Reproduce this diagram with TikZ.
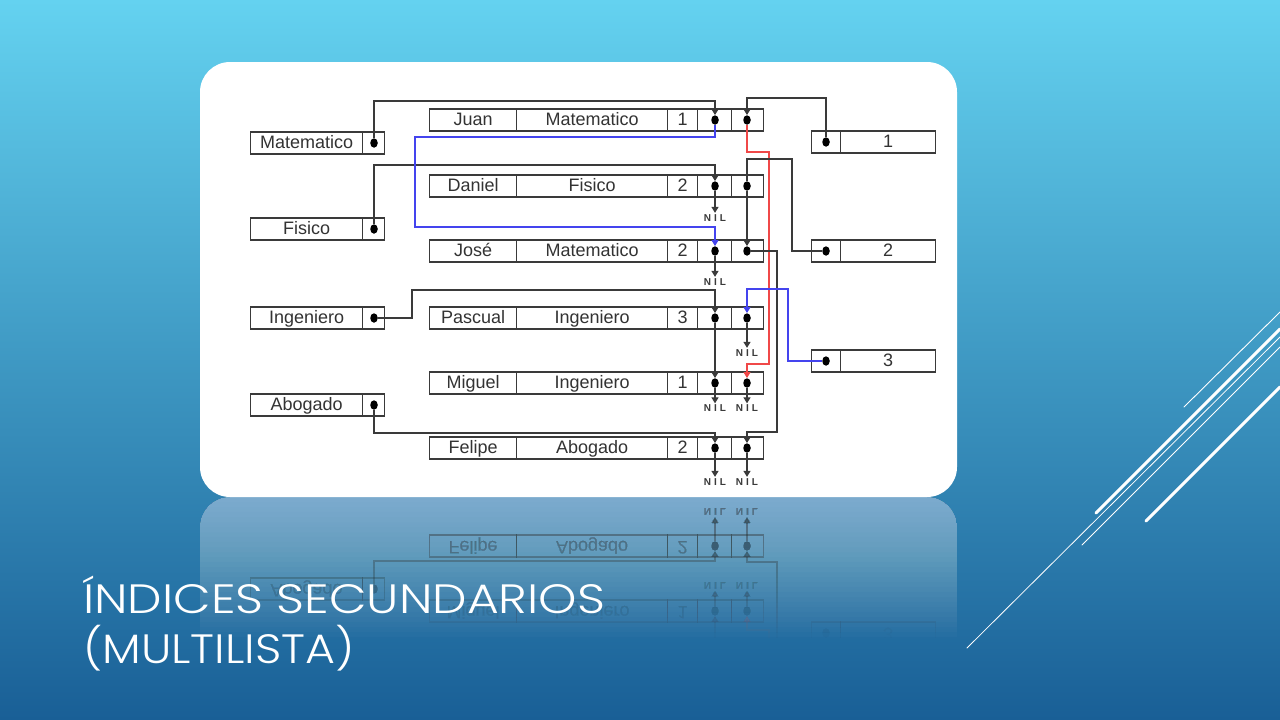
\documentclass[tikz,border=0pt]{standalone}
\usepackage{fontspec}
\usetikzlibrary{arrows.meta,shapes.geometric}
\newfontfamily\dfont{Liberation Sans}
\newfontfamily\tfont{Poppins Light}
\definecolor{linec}{HTML}{3A3A3A}
\definecolor{txtc}{HTML}{333333}
\definecolor{blu}{HTML}{4444EE}
\definecolor{rd}{HTML}{F04848}
\definecolor{bgtop}{RGB}{100,210,240}
\definecolor{bgmid}{RGB}{55,150,200}
\definecolor{bgbot}{RGB}{25,95,150}
\tikzset{
  cell/.style={draw=linec, line width=1.2pt, minimum height=22pt, inner sep=0pt, anchor=west, text=txtc, text height=14pt, text depth=4pt, font=\dfont\fontsize{18}{20}\selectfont},
  dotn/.style={ellipse, fill=black, minimum width=7.5pt, minimum height=9.5pt, inner sep=0pt},
  conn/.style={draw=linec, line width=1.2pt},
  arr/.style={conn, -{Triangle[width=7pt,length=6pt]}},
  barr/.style={conn, draw=blu, -{Triangle[width=7pt,length=6pt,fill=blu]}},
  rarr/.style={conn, draw=rd, -{Triangle[width=7pt,length=6pt,fill=rd]}},
  niltxt/.style={inner sep=0pt, text=linec, font=\dfont\bfseries\fontsize{10}{11}\selectfont},
  deco/.style={draw=white, line cap=round},
  card/.style={fill=white, rounded corners=30pt},
  ttl/.style={anchor=base west, inner sep=0pt, text=white, font=\tfont\fontsize{41}{41}\selectfont},
}
\newcommand\nilword{N\kern3pt I\kern3pt L}
% record: id, y, name, field, num
\newcommand\rec[5]{%
  \node[cell, minimum width=87pt] (#1n) at (429,#2) {#3};
  \node[cell, minimum width=151pt] (#1f) at (516,#2) {#4};
  \node[cell, minimum width=30pt] (#1k) at (667,#2) {#5};
  \node[cell, minimum width=34pt] (#1pc) at (697,#2) {};
  \node[cell, minimum width=32pt] (#1qc) at (731,#2) {};
  \node[dotn] (#1p) at (715,#2) {};
  \node[dotn] (#1q) at (747,#2) {};
}
% left index: id, y, text
\newcommand\lidx[3]{%
  \node[cell, minimum width=112pt] (#1) at (250,#2) {#3};
  \node[cell, minimum width=22pt] (#1c) at (362,#2) {};
  \node[dotn] (#1d) at (374,#2) {};
}
% right index: id, y, text
\newcommand\ridx[3]{%
  \node[cell, minimum width=29pt] (#1c) at (811,#2) {};
  \node[cell, minimum width=95pt] (#1) at (840,#2) {#3};
  \node[dotn] (#1d) at (826,#2) {};
}
% lower part of the diagram (shared by the card and its reflection)
\newcommand\lowerpart{%
  \lidx{iabo}{405}{Abogado}
  \rec{mig}{383}{Miguel}{Ingeniero}{1}
  \rec{fel}{448}{Felipe}{Abogado}{2}
  \node[niltxt] (nild) at (715,408) {\nilword};
  \node[niltxt] (nile) at (747,408) {\nilword};
  \node[niltxt] (nilf) at (715,482) {\nilword};
  \node[niltxt] (nilg) at (747,482) {\nilword};
  \draw[arr] (iabod.south) -- (374,433) -| (felp.north);
  \draw[arr, shorten >=1pt] (migp.south) -- (nild.north);
  \draw[arr, shorten >=1.5pt] (felp.south) -- (nilf.north);
  \draw[arr, shorten >=1pt] (migq.south) -- (nile.north);
  \draw[arr, shorten >=1.5pt] (felq.south) -- (nilg.north);
}
\begin{document}
\begin{tikzpicture}[x=1pt, y=-1pt]
\useasboundingbox (0,0) rectangle (1280,720);
\shade[top color=bgtop, middle color=bgmid, bottom color=bgbot] (0,0) rectangle (1280,720);
% decorative lines
\draw[deco, line width=0.9pt] (1184,407) -- (1280,312);
\draw[deco, line width=3pt] (1096,513) -- (1280,329);
\draw[deco, line width=0.9pt] (1082,545) -- (1280,347);
\draw[deco, line width=0.8pt] (967,648) -- (1280,337);
\draw[deco, line width=3pt] (1146,521) -- (1280,387);
% reflection of the card: stacked translucent layers fade it out downwards
\begin{scope}
  \clip[rounded corners=30pt] (200,497) rectangle (957,932);
  \foreach \k in {1,...,28}{
    \fill[white, opacity=0.02] (200,497) rectangle (957,{497+5*\k});
  }
\end{scope}
\foreach \k in {1,...,28}{
  \begin{scope}
    \clip (150,497) rectangle (1000,{497+5*\k});
    \begin{scope}[yshift=-994pt, yscale=-1, transform shape, opacity=0.022]
      \lowerpart
      \ridx{rthr}{361}{3}
      \coordinate (rpa) at (715,354);
      \coordinate (rre) at (769,354);
      \coordinate (rjo) at (777,354);
      \draw[arr] (rpa) -- (migp.north);
      \draw[rarr] (rre) |- (747,364) -- (migq.north);
      \draw[arr] (rjo) |- (747,432) -- (felq.north);
    \end{scope}
  \end{scope}
}
% card
\fill[card] (200,62) rectangle (957,497);
\lidx{imat}{143}{Matematico}
\lidx{ifis}{229}{Fisico}
\lidx{iing}{318}{Ingeniero}
\rec{jua}{120}{Juan}{Matematico}{1}
\rec{dan}{186}{Daniel}{Fisico}{2}
\rec{jos}{251}{José}{Matematico}{2}
\rec{pas}{318}{Pascual}{Ingeniero}{3}
\ridx{rone}{142}{1}
\ridx{rtwo}{251}{2}
\ridx{rthr}{361}{3}
\node[niltxt] (nila) at (715,218) {\nilword};
\node[niltxt] (nilb) at (715,282) {\nilword};
\node[niltxt] (nilc) at (747,353) {\nilword};
\lowerpart
% profession lists (first pointer)
\draw[arr] (imatd.north) -- (374,101) -| (juap.north);
\draw[arr] (ifisd.north) -- (374,165) -| (danp.north);
\draw[arr] (iingd.east) -- (412,318) |- (715,290) -- (pasp.north);
\draw[barr] (juap.south) -- (715,137) -| (415,227) -| (josp.north);
\draw[arr, shorten >=1.5pt] (danp.south) -- (nila.north);
\draw[arr, shorten >=1.5pt] (josp.south) -- (nilb.north);
\draw[arr] (pasp.south) -- (migp.north);
% category lists (second pointer)
\draw[arr] (roned.north) -- (826,98) -| (juaq.north);
\draw[rarr] (juaq.south) -- (747,152) -| (769,364) -| (migq.north);
\draw[conn] (rtwod.west) -| (792,159) -| (danq.north);
\draw[arr] (danq.south) -- (josq.north);
\draw[arr] (josq.east) -- (777,251) |- (747,432) -- (felq.north);
\draw[barr] (rthrd.west) -| (788,289) -| (pasq.north);
\draw[arr, shorten >=1.5pt] (pasq.south) -- (nilc.north);
% title
\node[ttl] (tone) at (83,613) {\scalebox{1.19}[1]{ÍNDICES SECUNDARIOS}};
\node[ttl] (ttwo) at (83,663) {\scalebox{1.12}[1]{(MULTILISTA)}};
\end{tikzpicture}
\end{document}
